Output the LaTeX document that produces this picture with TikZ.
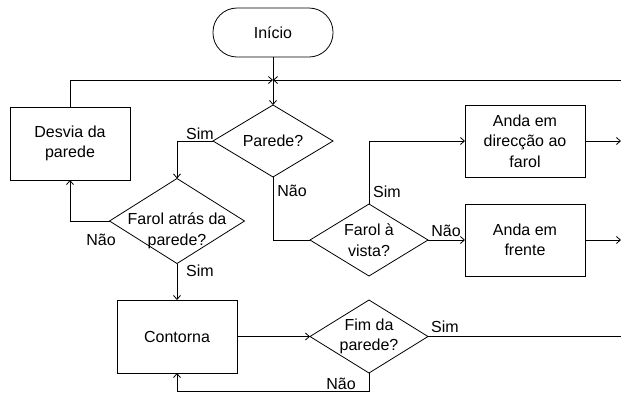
\documentclass[tikz,border=0pt]{standalone}
\usepackage{fontspec}
\setmainfont{Liberation Sans}
\usetikzlibrary{shapes.geometric,arrows.meta}
\begin{document}
\begin{tikzpicture}[x=1bp,y=-1bp,
  line width=0.8bp,
  every node/.style={font=\fontsize{16bp}{20.5bp}\selectfont, align=center, inner sep=0pt, outer sep=0pt},
  procbox/.style={draw, rectangle, minimum width=120bp, minimum height=73bp},
  startbox/.style={draw, rectangle, rounded corners=24bp, minimum width=120bp, minimum height=49bp},
  decbox/.style={draw, diamond, minimum width=#1},
  arr/.style={-{Straight Barb[length=4bp,width=7bp]}},
  lbl/.style={font=\fontsize{16bp}{20bp}\selectfont}
]
\useasboundingbox (0,0) rectangle (621,396);

% nodes
\node[startbox] (ini) at (273,32.5) {Início};
\node[draw, diamond, minimum width=120bp, minimum height=72bp] (par) at (273,141) {};
\node (partx) at (273,141) {Parede?};
\node[draw, diamond, minimum width=135bp, minimum height=85bp] (fat) at (177,221) {};
\node (fattx) at (177,231) {Farol atrás da\\parede?};
\node[draw, diamond, minimum width=118bp, minimum height=72bp] (fav) at (369,240) {};
\node (favtx) at (369,240) {Farol à\\vista?};
\node[draw, diamond, minimum width=118bp, minimum height=73bp] (fim) at (369,336.5) {};
\node (fimtx) at (369,336.5) {Fim da\\parede?};
\node[procbox] (des) at (70,143.5) {Desvia da\\parede};
\node[procbox] (con) at (177,336.5) {Contorna};
\node[procbox, minimum height=72bp] (adir) at (525,141) {Anda em\\direcção ao\\farol};
\node[procbox, minimum height=72bp] (afr) at (525,240) {Anda em\\frente};

% coordinates
\coordinate (J) at (273,80);
\coordinate (R0) at (621,80);
\coordinate (R1) at (621,141);
\coordinate (R2) at (621,240);
\coordinate (R3) at (621,336.5);
\coordinate (B) at (177,391);

% connectors
\draw[arr] (ini.south) -- (par.north);
\draw[arr] (des.north) |- (J);
\draw[arr] (R0) -- (J);
\draw[arr] (par.west) -| (fat.north);
\draw (par.south) |- (fav.west);
\draw[arr] (fat.west) -| (des.south);
\draw[arr] (fat.south) -- (con.north);
\draw[arr] (con.east) -- (fim.west);
\draw (fim.east) -- (R3);
\draw[arr] (fim.south) |- (B) -- (con.south);
\draw[arr] (fav.north) |- (adir.west);
\draw[arr] (fav.east) -- (afr.west);
\draw[arr] (adir.east) -- (R1);
\draw[arr] (afr.east) -- (R2);

% labels
\node[lbl] (l1) at (200,134) {Sim};
\node[lbl] (l2) at (292,191) {Não};
\node[lbl] (l3) at (101,240) {Não};
\node[lbl] (l4) at (200,271) {Sim};
\node[lbl] (l5) at (387,192) {Sim};
\node[lbl] (l6) at (446,231) {Não};
\node[lbl] (l7) at (445,327) {Sim};
\node[lbl] (l8) at (341,384) {Não};
\end{tikzpicture}
\end{document}
